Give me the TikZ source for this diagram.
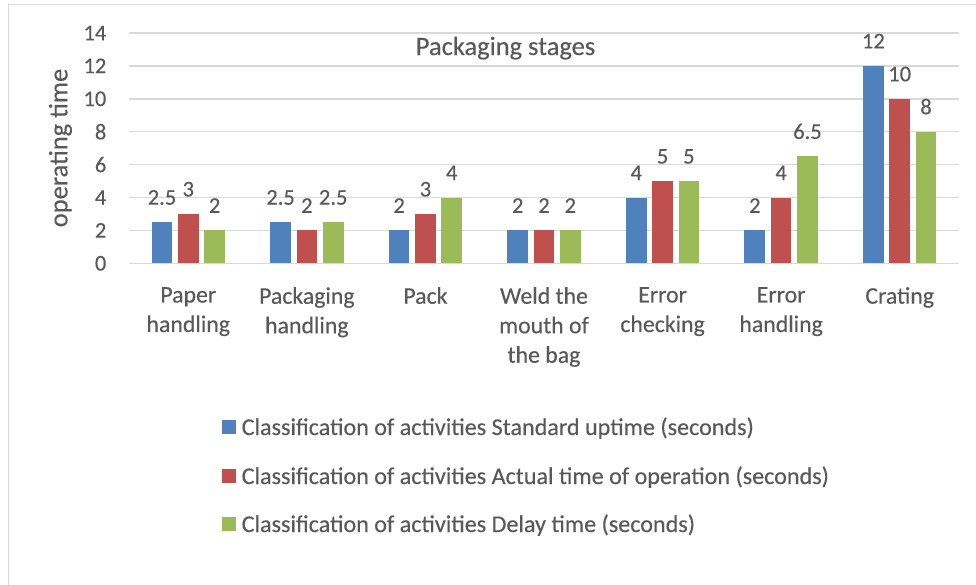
\documentclass[tikz,border=0pt]{standalone}
\usepackage{fontspec}
\setmainfont{Carlito}
% Carlito drawn with a slightly thickened stroke
\newfontfamily\chartfont{Carlito}[FakeBold=0.25]
\definecolor{serA}{HTML}{4F81BD}
\definecolor{serB}{HTML}{C0504D}
\definecolor{serC}{HTML}{9BBB59}
\definecolor{inkgray}{HTML}{595959}
\definecolor{gridgray}{HTML}{D9D9D9}
\begin{document}
\begin{tikzpicture}[x=1pt,y=-1pt,
  every node/.style={inner sep=0pt, text=inkgray},
  gridline/.style={gridgray, line width=1.4pt},
  ticklbl/.style={font=\chartfont\fontsize{22.5}{27}\selectfont, anchor=east},
  vallbl/.style={font=\chartfont\fontsize{22.5}{27}\selectfont, anchor=base},
  catlbl/.style={font=\chartfont\fontsize{23.8}{29.5}\selectfont, align=center, anchor=north},
  legtxt/.style={font=\chartfont\fontsize{24.1}{29}\selectfont, anchor=base west},
  ttl/.style={font=\chartfont\fontsize{26.5}{31}\selectfont}]
\useasboundingbox (0,0) rectangle (976,584);
\clip (0,0) rectangle (976,584);
\fill[white] (0,0) rectangle (976,584);
% chart frame (runs past the right and bottom edges)
\draw[gridgray, line width=1.5pt] (8.5,4.5) rectangle (1100,700);

% value axis: gridlines and tick labels
\foreach \v in {0,2,...,14}{
  \pgfmathsetmacro\yy{263.3-\v*16.45}
  \draw[gridline] (129,\yy) -- (959,\yy);
  \node[ticklbl] (tick\v) at (106.5,\yy) {\v};
}

% bars with data labels
\foreach \cat/\a/\b/\g [count=\i] in {
  {Paper\\handling}/2.5/3/2,
  {Packaging\\handling}/2.5/2/2.5,
  {Pack}/2/3/4,
  {Weld the\\mouth of\\the bag}/2/2/2,
  {Error\\checking}/4/5/5,
  {Error\\handling}/2/4/6.5,
  {Crating}/12/10/8}{
  \pgfmathsetmacro\cx{129+(\i-0.5)*118.57}
  \foreach \val/\col/\off/\tag in {\a/serA/-26.3/a,\b/serB/0/b,\g/serC/26.3/c}{
    \pgfmathsetmacro\top{263.3-\val*16.45}
    \fill[\col] ({\cx+\off-10.35},263.3) rectangle ({\cx+\off+10.35},\top);
    \node[vallbl] (val\tag\i) at ({\cx+\off},{\top-17.5}) {\val};
  }
  \node[catlbl] (cat\i) at (\cx,287) {\cat};
}

% titles
\node[ttl, anchor=base] (charttitle) at (505.5,55) {Packaging stages};
\node[ttl, rotate=90] (axistitle) at (60.5,148) {operating time};

% legend
\foreach \col/\txt/\yb [count=\j] in {
  serA/{Classification of activities Standard uptime (seconds)}/435,
  serB/{Classification of activities Actual time of operation (seconds)}/484,
  serC/{Classification of activities Delay time (seconds)}/532}{
  \fill[\col] (221.5,\yb-15.5) rectangle (235.5,\yb-1.5);
  \node[legtxt] (leg\j) at (241.5,\yb) {\txt};
}
\end{tikzpicture}
\end{document}
